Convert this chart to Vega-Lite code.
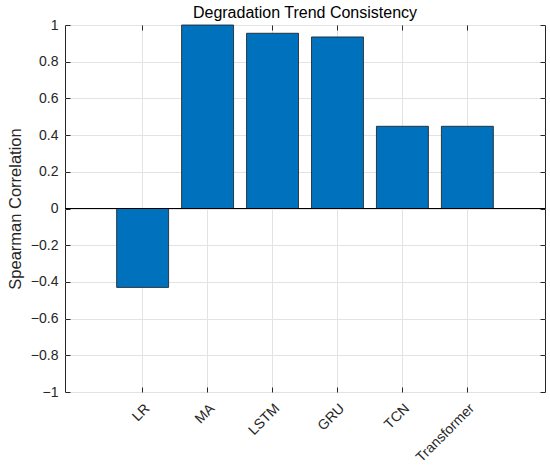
{
  "$schema": "https://vega.github.io/schema/vega-lite/v6.json",
  "width": 480,
  "height": 367,
  "autosize": "none",
  "padding": {"left": 65, "top": 25, "right": 5, "bottom": 78},
  "background": "white",
  "config": {
    "font": "Liberation Sans",
    "view": {"stroke": "#262626", "strokeWidth": 1},
    "axis": {
      "domain": false,
      "gridColor": "#e3e3e3",
      "gridWidth": 1,
      "tickColor": "#262626",
      "tickSize": -5,
      "labelColor": "#262626",
      "labelFontSize": 14,
      "labelFont": "Liberation Sans",
      "titleFont": "Liberation Sans",
      "titleFontWeight": "normal"
    }
  },
  "title": {
    "text": "Degradation Trend Consistency",
    "fontSize": 16,
    "fontWeight": "normal",
    "color": "#000000",
    "offset": -3
  },
  "data": {
    "values": [
      {"model": "LR", "rho": -0.43},
      {"model": "MA", "rho": 1.0},
      {"model": "LSTM", "rho": 0.955},
      {"model": "GRU", "rho": 0.935},
      {"model": "TCN", "rho": 0.448},
      {"model": "Transformer", "rho": 0.448}
    ]
  },
  "layer": [
    {
      "mark": {"type": "bar", "color": "#0072BD", "stroke": "#1a1a1a", "strokeWidth": 0.8},
      "encoding": {
        "x": {
          "field": "model",
          "type": "nominal",
          "sort": null,
          "scale": {"paddingInner": 0.2, "paddingOuter": 0.795},
          "axis": {
            "title": null,
            "orient": "bottom",
            "labelAngle": -45,
            "labelPadding": 14,
            "bandPosition": 0.5,
            "grid": true
          }
        },
        "y": {
          "field": "rho",
          "type": "quantitative",
          "scale": {"domain": [-1, 1], "nice": false},
          "axis": {
            "title": "Spearman Correlation",
            "titleFontSize": 16.5,
            "titleColor": "#262626",
            "titlePadding": 7,
            "orient": "left",
            "values": [-1, -0.8, -0.6, -0.4, -0.2, 0, 0.2, 0.4, 0.6, 0.8, 1],
            "format": "~g",
            "labelPadding": 12,
            "grid": true
          }
        }
      }
    },
    {
      "mark": {"type": "bar", "opacity": 0},
      "encoding": {
        "x": {
          "field": "model",
          "type": "nominal",
          "sort": null,
          "axis": {"orient": "top", "title": null, "labels": false, "grid": false, "bandPosition": 0.5}
        },
        "y": {
          "field": "rho",
          "type": "quantitative",
          "axis": {
            "orient": "right",
            "title": null,
            "labels": false,
            "grid": false,
            "values": [-1, -0.8, -0.6, -0.4, -0.2, 0, 0.2, 0.4, 0.6, 0.8, 1]
          }
        }
      }
    },
    {
      "mark": {"type": "rule", "color": "#000000", "strokeWidth": 1},
      "encoding": {"y": {"datum": 0, "type": "quantitative", "axis": null}}
    }
  ],
  "resolve": {"axis": {"x": "independent", "y": "independent"}}
}
